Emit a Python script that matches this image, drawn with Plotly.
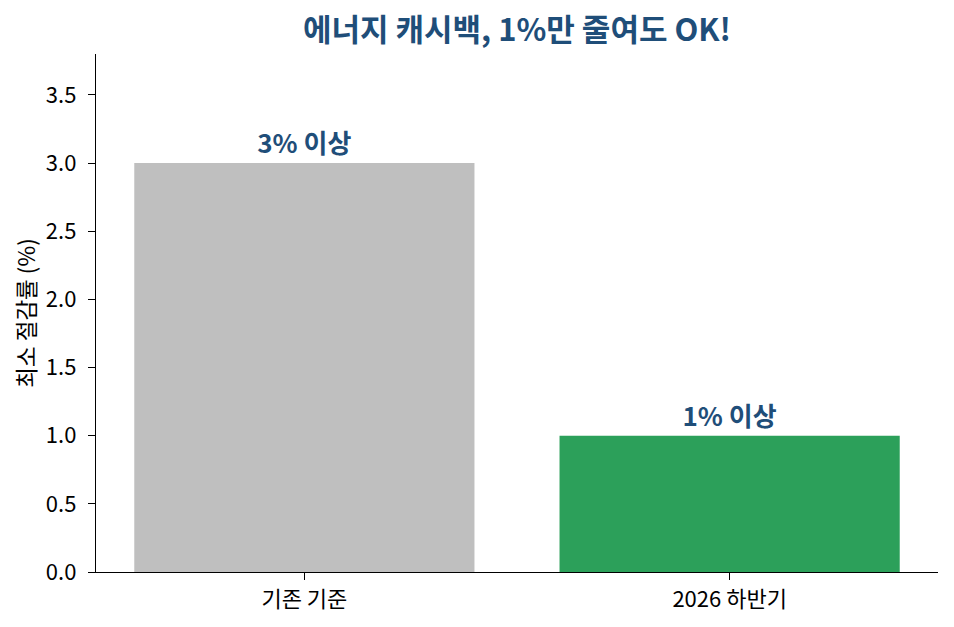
import plotly.graph_objects as go

categories = ["기존 기준", "2026 하반기"]
values = [3, 1]
bar_labels = ["3% 이상", "1% 이상"]
colors = ["#bfbfbf", "#2ca05a"]
title_text = "에너지 캐시백, 1%만 줄여도 OK!"
y_title = "최소 절감률 (%)"
y_ticks = [0.0, 0.5, 1.0, 1.5, 2.0, 2.5, 3.0, 3.5]

FONT = "Noto Sans CJK KR"
BLUE = "#1f4e79"

fig = go.Figure()
fig.add_trace(go.Bar(
    x=[0, 1], y=values, marker=dict(color=colors, line=dict(width=0)),
    width=0.8, text=bar_labels, textposition="outside",
    textfont=dict(family=FONT, size=26, color=BLUE, weight="bold"),
    cliponaxis=False, hoverinfo="skip",
))

fig.update_layout(
    width=954, height=627,
    margin=dict(l=96, r=16, t=54, b=55),
    plot_bgcolor="white", paper_bgcolor="white",
    showlegend=False,
    font=dict(family=FONT, size=22, color="#000000"),
    title=dict(text=title_text, x=0.5, xref="paper", y=0.952, yanchor="middle",
               font=dict(family=FONT, size=31, color=BLUE, weight="bold")),
    xaxis=dict(
        range=[-0.49, 1.49], tickvals=[0, 1], ticktext=categories,
        showline=True, linecolor="#000000", linewidth=1.4,
        ticks="outside", ticklen=7, tickcolor="#000000", tickwidth=1.4,
        showgrid=False, zeroline=False,
        tickfont=dict(family=FONT, size=22, color="#000000"),
    ),
    yaxis=dict(
        range=[0, 3.8], tickvals=y_ticks, ticktext=[f"{v:.1f}" for v in y_ticks],
        showline=True, linecolor="#000000", linewidth=1.4,
        ticks="outside", ticklen=7, tickcolor="#000000", tickwidth=1.4,
        ticklabelstandoff=7,
        showgrid=False, zeroline=False,
        tickfont=dict(family=FONT, size=22, color="#000000"),
        title=dict(text=y_title, font=dict(family=FONT, size=22.5, color="#000000"), standoff=3),
    ),
)

fig.write_html("out.html")
